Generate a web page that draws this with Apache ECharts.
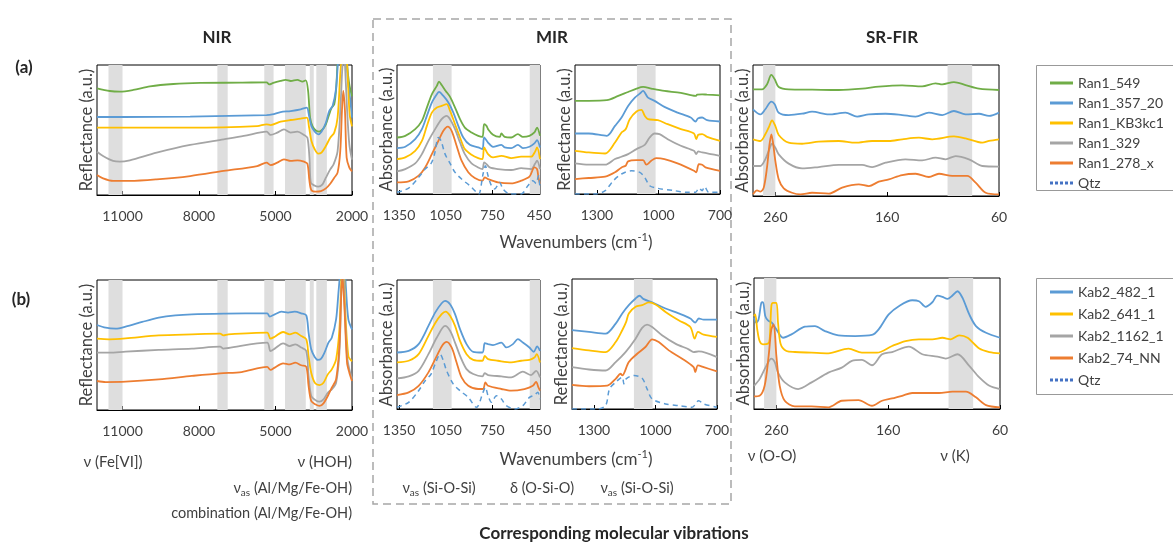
<!DOCTYPE html>
<html><head><meta charset="utf-8">
<script src="https://cdn.jsdelivr.net/npm/echarts@6.0.0/dist/echarts.min.js"></script>
<style>html,body{margin:0;padding:0;background:#fff}#c{width:1173px;height:542px}</style>
</head><body><div id="c"></div>
<script>
// ---------- tick labels ----------
const nirTicks = [11000, 8000, 5000, 2000];
const mir1Ticks = [1350, 1050, 750, 450];
const mir2Ticks = [1300, 1000, 700];
const firTicks = [260, 160, 60];

// ---------- shaded bands ----------
const nirBands = [[11000, 11550], [6875, 7280], [5075, 5440], [3813, 4628], [3500, 3655], [2985, 3400]];
const mir1Bands = [[1012, 1132], [444, 510]];
const mir2Bands = [[1014, 1105]];
const firBands = [[260, 271], [84, 106]];

// ---------- series names ----------
const namesA = ['Ran1_549', 'Ran1_357_20', 'Ran1_KB3kc1', 'Ran1_329', 'Ran1_278_x', 'Qtz'];
const namesB = ['Kab2_482_1', 'Kab2_641_1', 'Kab2_1162_1', 'Kab2_74_NN', 'Qtz'];

// ---------- NIR (a) ----------
const nirA_549 = [[12000,82],[11500,80],[11106,79.5],[10580,80.8],[9924,83.6],[9004,85.4],[7952,86.2],[6376,86.4],[5351,86.7],[5246,85.1],[5088,86.2],[4799,87.7],[4602,88.5],[4405,87.7],[4142,88.5],[3945,87.2],[3813,88.2],[3721,80],[3643,59.5],[3550,53],[3419,49.7],[3288,48.7],[3156,50.5],[3025,54.4],[2894,62],[2802,67],[2696,69.7],[2618,82.6],[2565,103],[2499,118],[2368,130],[2276,120],[2197,100.5],[2105,85],[2000,76]];
const nirA_357 = [[12000,60],[10975,60],[8347,60.3],[5351,61.5],[5127,62],[4799,63.8],[4405,64.6],[4010,65.9],[3774,67.2],[3682,60.8],[3590,53],[3459,48.7],[3327,46.7],[3196,48.7],[3025,55.6],[2894,64.6],[2762,68.5],[2631,81],[2539,105],[2400,130],[2250,130],[2171,90],[2092,77.4],[2000,59.5]];
const nirA_KB3 = [[12000,51.8],[8347,51.8],[5719,53],[5351,54.4],[5193,53.8],[4799,56.4],[4405,57.7],[4010,58.7],[3774,59.5],[3682,51.8],[3590,41.5],[3459,35],[3327,31.8],[3196,32.6],[3025,37.7],[2854,44],[2696,48],[2565,59.5],[2460,92.8],[2407,105],[2300,130],[2230,115],[2171,92.8],[2092,62],[2000,52.8]];
const nirA_329 = [[12000,33.3],[11763,30],[11369,26.2],[11106,25.6],[10712,26.7],[9661,32.6],[8347,38.5],[7033,42.8],[6244,45.4],[5351,48.7],[5193,46.2],[4930,48],[4667,50.5],[4405,48],[4142,48.7],[3879,46.2],[3748,44],[3669,28.7],[3616,9.5],[3485,7.4],[3327,6.4],[3156,8.2],[3025,13.3],[2854,19.7],[2723,23.6],[2565,33.8],[2434,74.9],[2368,100.5],[2302,105],[2276,100.5],[2197,67.2],[2105,39],[2000,27.2]];
const nirA_278 = [[12000,15.4],[11763,12.8],[11369,10.8],[10712,10.8],[9661,12],[8347,14.6],[7033,18.5],[5719,22.3],[5351,24.9],[5193,23],[4930,24.9],[4667,27.4],[4405,26.2],[4142,26.7],[3879,25.6],[3748,24.1],[3669,10.8],[3590,3.6],[3419,2.6],[3222,3],[3025,5.1],[2854,8.7],[2696,13.3],[2565,17.2],[2460,33.8],[2394,64.6],[2342,80],[2276,64.6],[2210,28.7],[2105,21],[2000,18.2]];

// ---------- NIR (b) ----------
const nirB_482 = [[12000,65.4],[11659,63.3],[11269,62.6],[10879,64.1],[10229,67.7],[9579,71],[8929,72.8],[8279,73.6],[6979,74.1],[5328,74.4],[5224,71.8],[5029,73.6],[4769,75.6],[4509,74.9],[4249,75.6],[3989,74.4],[3794,72.8],[3703,59.5],[3599,46.7],[3469,41],[3339,38.5],[3209,39.5],[3079,44.1],[2923,51.8],[2793,55.6],[2624,69.7],[2533,90],[2468,105],[2350,130],[2234,92.8],[2143,69.7],[2000,62]];
const nirB_641 = [[12000,54.9],[11529,54.4],[10879,55.1],[9579,57.4],[8279,58.2],[7174,58.7],[7044,57.4],[6849,58.2],[5328,59.5],[5198,54.9],[5029,56.4],[4704,60],[4444,58.2],[4223,59.5],[3989,56.9],[3794,54.4],[3703,41.5],[3599,28.7],[3443,20.5],[3274,19.2],[3118,21],[2949,27.4],[2793,31.3],[2624,39],[2494,62],[2429,95.4],[2380,115],[2320,110],[2273,80],[2143,41.5],[2000,37.5]];
const nirB_1162 = [[12000,44.1],[11529,44.1],[10879,44.9],[9579,46.2],[8279,47.2],[7174,48.7],[7044,47.2],[6849,47.7],[5328,51.8],[5198,45.4],[5029,47.2],[4704,51.3],[4444,49.2],[4223,50.5],[3989,48],[3794,45.4],[3703,26.2],[3599,10.8],[3443,7.7],[3274,6.4],[3118,8.2],[2949,13.3],[2793,15.9],[2624,21],[2494,44.1],[2429,85],[2377,105],[2340,105],[2299,85],[2195,41.5],[2104,31.3],[2000,24.1]];
const nirB_74 = [[12000,22.3],[11659,21.5],[10879,21.8],[9579,23.6],[8279,26.2],[7174,28.2],[6329,29.2],[5328,33.1],[5198,30.8],[5029,32.6],[4704,35.9],[4444,35.1],[4223,36.4],[3989,34.4],[3794,33.3],[3703,18.5],[3599,6.9],[3443,4.4],[3274,3.1],[3118,5.1],[2949,10.8],[2793,17.2],[2624,23.6],[2494,49.2],[2429,85],[2377,103],[2299,80],[2195,36.4],[2104,28.7],[2000,22.3]];

// ---------- MIR absorbance (a) ----------
const mir1A_549 = [[1363,43.8],[1310,45.1],[1246,50.3],[1203,56.7],[1171,67],[1139,77.3],[1107,83.8],[1093,87.1],[1076,84.5],[1050,79.9],[1022,75.3],[990,67],[958,58],[927,51.5],[884,47.7],[841,45.1],[814,44.3],[803,54.1],[788,52.8],[778,50.3],[746,45.9],[703,44.3],[692,46.9],[671,44.3],[629,43.8],[586,46.4],[554,44.3],[512,45.1],[480,47.7],[463,51.5],[444,45.1]];
const mir1A_357 = [[1363,35.6],[1310,36.6],[1246,42.5],[1203,50.3],[1171,60.6],[1139,70.9],[1107,77.3],[1093,79.1],[1065,76],[1033,70.9],[1001,63.1],[969,52.8],[937,43.8],[895,38.1],[841,36.1],[814,34.8],[803,43.8],[778,39.9],[746,36.6],[692,38.1],[671,36.1],[629,35.6],[586,38.1],[554,35.6],[512,36.6],[480,39.2],[463,41.8],[444,36.1]];
const mir1A_KB3 = [[1363,27.1],[1310,28.4],[1246,33.5],[1203,41.2],[1171,52.8],[1139,63.1],[1107,67],[1076,68.3],[1044,69.6],[1022,64.4],[990,54.1],[958,43.8],[927,34.8],[884,30.4],[841,27.8],[814,27.1],[803,36.1],[778,30.9],[746,28.4],[692,29.6],[629,27.8],[565,28.9],[501,28.9],[475,33],[463,36.1],[444,27.1]];
const mir1A_329 = [[1363,17.5],[1310,19.3],[1246,23.7],[1203,30.9],[1161,41.2],[1118,50.3],[1076,58],[1044,60.6],[1022,58],[990,50.3],[958,39.9],[927,30.9],[884,23.7],[841,20.6],[814,19.3],[803,24.5],[788,23.2],[767,20.6],[714,19.3],[629,18.6],[565,20.1],[501,19.3],[475,23.7],[463,25.8],[444,19.3]];
const mir1A_278 = [[1363,9],[1288,9.8],[1224,14.2],[1182,20.6],[1139,30.9],[1097,41.2],[1065,49],[1037,52.3],[1012,49],[980,37.4],[948,25.8],[905,16.8],[863,12.4],[814,10.3],[799,12.9],[778,11.6],[714,9],[629,8.2],[565,10.3],[512,13.4],[480,20.6],[463,19.3],[454,12.9],[444,7.7]];
const mir1A_qtz = [[1363,1.3],[1288,4.6],[1224,12.9],[1182,19.3],[1144,23.7],[1122,30.9],[1097,43.8],[1080,41.2],[1054,30.9],[1022,23.7],[990,16.8],[948,11.6],[895,6.4],[852,1.3],[837,0],[810,15.5],[795,21.9],[778,14.2],[756,6.4],[735,3.9],[703,9],[682,3.9],[639,0],[565,0],[522,6.4],[490,10.3],[469,8.2],[454,14.2],[444,3.9]];

// ---------- MIR reflectance (a) ----------
const mir2A_549 = [[1407,72.2],[1340,72.2],[1252,72.7],[1196,76],[1148,79.1],[1107,81.7],[1075,83],[1035,81.7],[971,79.9],[891,78.4],[819,76],[811,77],[787,77.3],[763,77],[700,76.5]];
const mir2A_357 = [[1407,46.9],[1340,46.9],[1252,45.1],[1212,52.8],[1180,59.3],[1148,68.3],[1115,74.7],[1091,77.8],[1075,79.9],[1051,74.7],[1019,72.2],[971,67.5],[907,63.1],[843,59.3],[819,56.2],[808,58.5],[787,59.3],[763,57.2],[700,56.2]];
const mir2A_KB3 = [[1407,33.5],[1340,32.2],[1260,31.4],[1212,39.9],[1180,47.7],[1164,49.5],[1156,51.5],[1140,58],[1107,63.9],[1083,65.2],[1067,60.6],[1051,58],[1003,57.2],[955,54.1],[891,50.3],[827,46.9],[816,42.5],[806,45.9],[787,46.4],[763,44.3],[700,41.2]];
const mir2A_329 = [[1407,23.7],[1340,22.7],[1260,22.7],[1212,27.1],[1180,28.9],[1148,30.9],[1107,34.8],[1067,38.1],[1043,43.8],[1019,46.9],[995,46.4],[955,42.5],[891,37.4],[827,33.5],[816,30.9],[806,33],[787,32.2],[700,29.6]];
const mir2A_278 = [[1407,11.6],[1340,12.4],[1260,13.4],[1212,16.8],[1180,20.6],[1160,21.9],[1148,25.3],[1107,26.3],[1075,26.3],[1059,22.7],[1035,25.8],[1011,27.8],[971,27.1],[907,23.7],[827,18],[816,16.8],[803,23.2],[787,22.7],[771,20.6],[700,18]];
const mir2A_qtz = [[1407,0],[1308,0],[1260,2.6],[1220,10.3],[1180,15.5],[1132,18],[1091,16.8],[1067,12.9],[1043,6.4],[1003,4.4],[923,2.6],[859,1.3],[819,1.3],[803,4.6],[787,2.6],[775,5.7],[755,1.3],[700,1.3]];

// ---------- SR-FIR (a) ----------
const firA_549 = [[280,81.4],[271.9,81.4],[267.5,85.2],[263.6,92.4],[260.6,89.1],[257,83.2],[248.1,81.4],[227.2,81.2],[203.3,80.9],[182.4,81.9],[167.5,83.5],[146.6,84.5],[128.7,83.7],[116.7,86],[110.7,85.2],[100.3,87],[89.9,84.7],[77.9,81.9],[60,80.9]];
const firA_357 = [[280,66.2],[273.4,62.3],[269,66.2],[263.6,72],[260.6,70],[257,63.6],[248.1,61.8],[236.1,62.8],[227.2,64.4],[212.2,62.3],[197.3,63.6],[186.9,60.6],[176.4,62.3],[161.5,62.8],[146.6,61.8],[134.6,60.6],[122.7,63.6],[110.7,61.8],[100.3,64.9],[89.9,62.3],[77.9,62.8],[68.9,61.1],[60,63.6]];
const firA_KB3 = [[280,43.3],[273.4,42],[269,47.1],[265.4,53.4],[263,57.8],[260,53.4],[257,46.6],[248.1,40.7],[236.1,39.9],[221.2,41.5],[203.3,42],[188.4,40.7],[173.4,42],[158.5,42],[146.6,43.3],[131.6,44.5],[119.7,43.3],[100.3,45.5],[89.9,44],[74.9,40.7],[68.9,42],[60,43.3]];
const firA_329 = [[280,22.9],[273.4,22.9],[269,28],[265.4,35.6],[263,39.9],[260,36.9],[257,31.8],[248.1,24.7],[236.1,21.1],[221.2,22.1],[203.3,23.7],[182.4,23.7],[173.4,22.1],[161.5,25.4],[143.6,28],[128.7,27.2],[116.7,29.3],[107.8,28],[98.8,30.5],[86.9,28],[74.9,22.9],[60,22.4]];
const firA_278 = [[280,1.3],[276.4,4.3],[273.4,3.3],[270.4,6.4],[267.5,21.6],[265.4,38.2],[263.6,47.1],[262.1,40.7],[260,26.7],[257,12.7],[252.5,5.9],[245.1,2.5],[237.6,1.3],[227.2,2.5],[212.2,1.8],[200.3,6.4],[185.4,8.9],[176.4,7.6],[167.5,10.9],[158.5,12.7],[146.6,16],[134.6,17],[122.7,14.5],[113.7,17],[101.8,15.3],[88.4,15.3],[80.9,10.2],[71.9,2.5],[60,1.3]];

// ---------- MIR absorbance (b) ----------
const mir1B_482 = [[1363,43.8],[1288,45.1],[1224,50.3],[1161,64.4],[1118,74.7],[1076,82],[1054,83.8],[1022,81.2],[990,73.5],[958,61.9],[916,50.3],[873,44.3],[814,43.8],[799,51],[778,50.3],[746,49.5],[692,51.5],[661,47.7],[618,50.3],[586,54.1],[554,51.5],[512,47.7],[484,44.3],[463,48.5],[444,45.1]];
const mir1B_641 = [[1363,36.1],[1288,37.4],[1224,42.5],[1161,56.7],[1118,66.5],[1076,73.5],[1050,75.5],[1022,72.2],[990,64.4],[958,52.8],[916,42.5],[873,38.1],[814,37.4],[799,41.2],[778,38.7],[714,37.4],[629,36.1],[565,37.4],[512,38.1],[480,39.9],[465,42.5],[444,36.1]];
const mir1B_1162 = [[1363,23.7],[1288,25.3],[1224,29.6],[1161,42.5],[1107,55.4],[1054,64.4],[1022,60.6],[990,51.5],[958,41.2],[916,30.9],[873,27.1],[814,25.3],[799,27.8],[778,26.3],[692,25.3],[629,24.5],[554,28.9],[501,26.3],[469,29.6],[444,24.5]];
const mir1B_74 = [[1363,10.8],[1288,12.9],[1224,18],[1161,28.4],[1107,41.2],[1071,49.5],[1044,52.1],[1012,47.7],[980,36.1],[948,24.5],[905,18],[841,15.5],[810,15.5],[795,20.6],[778,18],[692,15.5],[629,14.2],[544,15.5],[490,18],[469,21.1],[454,16.8],[444,14.2]];
const mir1B_qtz = [[1363,1.3],[1288,5.2],[1224,14.2],[1182,21.9],[1144,27.1],[1118,34.8],[1086,42.5],[1065,37.4],[1044,29.6],[1001,19.3],[958,14.2],[905,9],[852,1.3],[810,12.9],[795,16.8],[778,10.3],[756,5.2],[724,10.3],[692,7.7],[661,2.6],[607,0],[554,2.6],[512,9],[480,10.8],[458,12.9],[444,7.7]];

// ---------- MIR reflectance (b) ----------
const mir2B_482 = [[1407,60.6],[1324,59.3],[1243,58],[1194,65.7],[1162,73.5],[1130,79.9],[1097,85],[1078,87.1],[1057,84.5],[1016,82],[951,77.3],[887,73.5],[830,69.6],[806,66.5],[789,69.6],[765,68.8],[700,68.8]];
const mir2B_641 = [[1407,46.9],[1324,45.1],[1243,43.8],[1194,51.5],[1162,60.6],[1143,67],[1130,73.5],[1097,78.6],[1065,79.9],[1032,82],[1000,80.4],[951,74.7],[887,68.3],[830,63.1],[809,54.1],[793,59.3],[765,57.2],[700,55.4]];
const mir2B_1162 = [[1407,32.2],[1324,30.4],[1243,29.6],[1194,36.1],[1146,43.8],[1097,54.1],[1065,62.4],[1041,64.9],[1016,63.1],[968,56.7],[903,50.3],[838,45.9],[814,43.8],[789,44.3],[700,39.9]];
const mir2B_74 = [[1407,18.6],[1324,17.5],[1235,18],[1194,23.2],[1170,27.1],[1162,25.8],[1130,36.1],[1089,42.5],[1049,47.7],[1016,53.6],[984,51.5],[935,45.1],[870,38.7],[814,32.2],[806,28.4],[793,33.5],[765,32.2],[700,28.9]];
const mir2B_qtz = [[1407,0],[1284,0],[1243,2.6],[1224,15.5],[1194,20.6],[1162,24.5],[1154,19.3],[1143,23.2],[1105,25.8],[1065,23.7],[1041,15.5],[1016,7.7],[951,3.9],[887,2.6],[822,1.3],[789,6.4],[765,3.9],[700,1.3]];

// ---------- SR-FIR (b) ----------
const firB_482 = [[280,69.6],[278,65.8],[275.9,68.4],[273.5,81],[272,81.5],[269.9,70.9],[267.5,67.6],[263.9,65.8],[260,60.8],[254,54.4],[246.5,57],[234.5,62.8],[225.5,63.3],[216.5,59.5],[204.5,56.2],[189.5,55.7],[174.5,56.5],[168.5,60.8],[159.5,72.2],[150.5,78.5],[138.5,83],[132.5,82.3],[126.5,78],[120.5,81.5],[116,86.6],[111.5,85.6],[107,84],[102.5,86.6],[98,89.9],[93.5,84.8],[87.5,72.2],[81.5,63.3],[72.5,58.2],[60,54.4]];
const firB_641 = [[280,70.9],[278.9,72.2],[277.1,60.8],[275,51.9],[272,49.4],[267.5,49.9],[266,53.2],[264.5,78.5],[263,81],[260,81],[258.5,65.8],[256.1,49.4],[251,44.3],[243.5,43.5],[228.5,43],[213.5,42.5],[195.5,46.1],[183.5,43],[170,43],[156.5,48.1],[144.5,51.9],[132.5,53.2],[120.5,53.2],[111.5,54.4],[104,53.2],[96.5,56.2],[89,54.4],[78.5,46.1],[69.5,43.5],[60,42.5]];
const firB_1162 = [[280,17.7],[275,22.8],[269,32.9],[264.5,38.5],[261.5,35.9],[258.5,27.8],[252.5,20.3],[240.5,15.2],[228.5,20.3],[213.5,27.8],[201.5,31.6],[192.5,36.7],[183.5,37.5],[174.5,33.4],[165.5,41.8],[156.5,43.5],[141.5,47.6],[129.5,41.8],[116,40],[108.5,38.5],[98,41.8],[87.5,32.9],[78.5,24.1],[69.5,17.7],[60,15.2]];
const firB_74 = [[280,9.6],[275,10.1],[270.5,17.7],[266.9,40.5],[264.5,60.8],[262.4,64.6],[260,40.5],[257,17.7],[252.5,6.3],[243.5,2],[228.5,2],[213.5,1.3],[201.5,6.3],[186.5,6.8],[174.5,2.5],[165.5,6.3],[156.5,8.1],[147.5,10.1],[138.5,12.2],[126.5,12.2],[114.5,12.2],[102.5,13.2],[90.5,13.2],[81.5,8.9],[72.5,3],[60,1.3]];

// ================= build =================
const FONT = 'Lato, "Noto Sans", "DejaVu Sans", sans-serif';
const TXT = '#404040';
const C = {green:'#70AD47', blue:'#5B9BD5', yellow:'#FFC000', gray:'#A5A5A5', orange:'#ED7D31'};

const grids = [
  {left:97, top:65, width:255, height:130},
  {left:397, top:65, width:143, height:129},
  {left:575, top:65, width:145, height:129},
  {left:753, top:65, width:246, height:131},
  {left:97, top:280, width:255, height:130},
  {left:397, top:280, width:143, height:129},
  {left:572, top:279, width:145, height:130},
  {left:754, top:278, width:246, height:131}
];
const panelKinds = ['nir','mir1','mir2','fir','nir','mir1','mir2','fir'];
const kindCfg = {
  nir: {min:2000, max:12000, ticks:nirTicks, bands:nirBands, yname:'Reflectance (a.u.)'},
  mir1:{min:444, max:1363, ticks:mir1Ticks, bands:mir1Bands, yname:'Absorbance (a.u.)'},
  mir2:{min:700, max:1407, ticks:mir2Ticks, bands:mir2Bands, yname:'Reflectance (a.u.)'},
  fir: {min:60, max:280, ticks:firTicks, bands:firBands, yname:'Absorbance (a.u.)'}
};

const xAxes = [], yAxes = [], series = [];
panelKinds.forEach((k, i) => {
  const c = kindCfg[k];
  xAxes.push({type:'value', gridIndex:i, inverse:true, min:c.min, max:c.max,
    axisLine:{show:true, onZero:false, lineStyle:{color:'#000', width:1}},
    axisTick:{show:true, inside:true, length:4, customValues:c.ticks, lineStyle:{color:'#000'}},
    axisLabel:{show:true, customValues:c.ticks, margin:14, fontSize:14, fontFamily:FONT, color:TXT,
      formatter:(v) => String(v)},
    splitLine:{show:false}});
  yAxes.push({type:'value', gridIndex:i, min:0, max:100, name:c.yname, nameLocation:'middle', nameGap:2,
    nameTextStyle:{fontSize:16.5, fontFamily:FONT, color:TXT},
    axisLine:{show:false}, axisTick:{show:false}, axisLabel:{show:false}, splitLine:{show:false}});
  series.push({type:'line', xAxisIndex:i, yAxisIndex:i, data:[], z:1, silent:true,
    markArea:{silent:true, itemStyle:{color:'#DEDEDE'}, data:c.bands.map(b => [{xAxis:b[0]}, {xAxis:b[1]}])}});
});

function line(name, data, color, gi, dashed) {
  series.push({type:'line', name:name, data:data, xAxisIndex:gi, yAxisIndex:gi, symbol:'none', showSymbol:false,
    smooth:0.3, clip:true, z:3, silent:true,
    lineStyle:{color:color, width:dashed ? 1.5 : 1.8, type:dashed ? [5,4] : 'solid'}, itemStyle:{color:color}});
}
// row (a)
const colA = [C.green, C.blue, C.yellow, C.gray, C.orange];
[[nirA_549,nirA_357,nirA_KB3,nirA_329,nirA_278],
 [mir1A_549,mir1A_357,mir1A_KB3,mir1A_329,mir1A_278],
 [mir2A_549,mir2A_357,mir2A_KB3,mir2A_329,mir2A_278],
 [firA_549,firA_357,firA_KB3,firA_329,firA_278]].forEach((set, gi) => {
   set.forEach((d, j) => line(namesA[j], d, colA[j], gi, false));
});
line('Qtz', mir1A_qtz, C.blue, 1, true);
line('Qtz', mir2A_qtz, C.blue, 2, true);
// row (b)
const colB = [C.blue, C.yellow, C.gray, C.orange];
[[nirB_482,nirB_641,nirB_1162,nirB_74],
 [mir1B_482,mir1B_641,mir1B_1162,mir1B_74],
 [mir2B_482,mir2B_641,mir2B_1162,mir2B_74],
 [firB_482,firB_641,firB_1162,firB_74]].forEach((set, gi) => {
   set.forEach((d, j) => line(namesB[j], d, colB[j], gi + 4, false));
});
line('Qtz', mir1B_qtz, C.blue, 5, true);
line('Qtz', mir2B_qtz, C.blue, 6, true);

const DOTS = 'path://M0 0h3v3h-3zM5 0h3v3h-3zM10 0h3v3h-3zM15 0h3v3h-3zM20 0h3v3h-3z';
function legendData(names) {
  return names.map(n => n === 'Qtz' ? {name:n, icon:DOTS, itemStyle:{color:'#4472C4'}} : {name:n});
}
const legendBase = {orient:'vertical', icon:'rect', itemWidth:23, itemHeight:3, selectedMode:false,
  textStyle:{fontSize:14, fontFamily:FONT, color:TXT}};

function T(x, y, text, opt) {
  return Object.assign({type:'text', x:x, y:y, silent:true,
    style:Object.assign({text:text, fill:TXT, font:'14.5px ' + FONT, align:'center', verticalAlign:'middle'}, opt || {})});
}
const subRich = {n:{fontSize:14.5, fontFamily:FONT, lineHeight:20, fill:TXT}, s:{fontSize:10, fontFamily:FONT, verticalAlign:'bottom', fill:TXT}};
const supRich = {n:{fontSize:17, fontFamily:FONT, lineHeight:22, fill:TXT}, s:{fontSize:11, fontFamily:FONT, verticalAlign:'top', fill:TXT}};

const graphic = [
  {type:'rect', shape:{x:373, y:19, width:358, height:485}, silent:true, z:-1,
   style:{fill:null, stroke:'#A6A6A6', lineWidth:1.5, lineDash:[8,5]}},
  {type:'rect', shape:{x:1036.5, y:65.5, width:150, height:125}, silent:true, style:{fill:null, stroke:'#999', lineWidth:1}},
  {type:'rect', shape:{x:1036.5, y:278.5, width:150, height:116}, silent:true, style:{fill:null, stroke:'#999', lineWidth:1}},
  T(217, 38, 'NIR', {font:'bold 17px ' + FONT, fill:'#262626'}),
  T(552, 38, 'MIR', {font:'bold 17px ' + FONT, fill:'#262626'}),
  T(892, 38, 'SR-FIR', {font:'bold 17px ' + FONT, fill:'#262626'}),
  T(24, 68, '(a)', {font:'bold 17px ' + FONT, fill:'#262626'}),
  T(21, 300, '(b)', {font:'bold 17px ' + FONT, fill:'#262626'}),
  T(576, 243, '{n|Wavenumbers (cm}{s|-1}{n|)}', {rich:supRich}),
  T(576, 460, '{n|Wavenumbers (cm}{s|-1}{n|)}', {rich:supRich}),
  T(113, 462, 'ν (Fe[VI])', {font:'15px ' + FONT}),
  T(352, 462, 'ν (HOH)', {align:'right', font:'15px ' + FONT}),
  T(352, 488, '{n|ν}{s|as}{n| (Al/Mg/Fe-OH)}', {align:'right', rich:subRich}),
  T(352, 513, 'combination (Al/Mg/Fe-OH)', {align:'right'}),
  T(439, 488, '{n|ν}{s|as}{n| (Si-O-Si)}', {rich:subRich}),
  T(542, 488, 'δ (O-Si-O)'),
  T(637, 488, '{n|ν}{s|as}{n| (Si-O-Si)}', {rich:subRich}),
  T(772, 456, 'ν (O-O)', {font:'15px ' + FONT}),
  T(955, 456, 'ν (K)', {font:'15px ' + FONT}),
  T(614, 534, 'Corresponding molecular vibrations', {font:'bold 17px ' + FONT, fill:'#262626'})
];

const option = {
  animation:false,
  backgroundColor:'#fff',
  grid:grids.map(g => Object.assign({show:true, borderColor:'#000', borderWidth:1, backgroundColor:'transparent', containLabel:false}, g)),
  xAxis:xAxes, yAxis:yAxes, series:series,
  legend:[
    Object.assign({}, legendBase, {left:1045, top:71, itemGap:6, data:legendData(namesA)}),
    Object.assign({}, legendBase, {left:1045, top:280, itemGap:8, data:legendData(namesB)})
  ],
  graphic:graphic
};
const chart = echarts.init(document.getElementById('c'), null, {renderer:'canvas'});
chart.setOption(option);
</script></body></html>
